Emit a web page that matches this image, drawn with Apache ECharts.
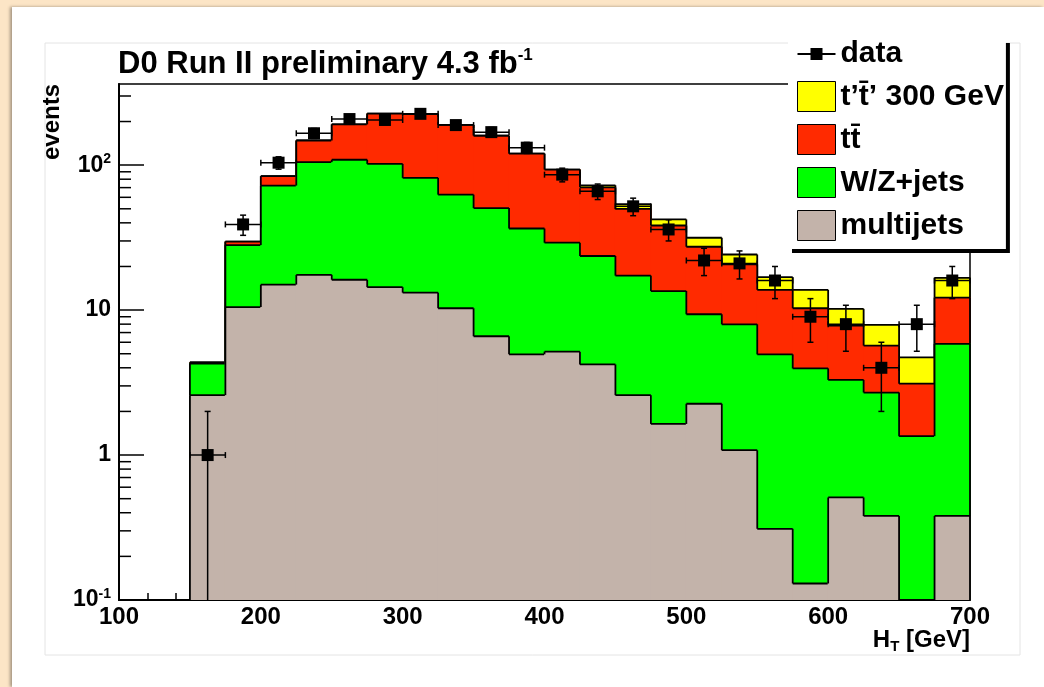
<!DOCTYPE html>
<html>
<head>
<meta charset="utf-8">
<title>D0 Run II preliminary - HT</title>
<script src="https://cdn.jsdelivr.net/npm/echarts@6/dist/echarts.min.js"></script>
<style>
body { margin: 0; background: #fce5c6; }
#panel { position: absolute; left: 12px; top: 7px; width: 1032px; height: 680px; background: #fff; box-shadow: -2px 0 3px rgba(0,0,0,0.35); }
#main { position: absolute; left: 0; top: 0; width: 1044px; height: 687px; }
</style>
</head>
<body>
<div id="panel"></div>
<div id="main"></div>
<script>
// bins of H_T (GeV), low edges
var binLow = [150, 175, 200, 225, 250, 275, 300, 325, 350, 375, 400, 425, 450, 475, 500, 525, 550, 575, 600, 625, 650, 675];
var binWidth = 25;

// expected events per process
var multijets = [2.59, 10.5, 15.0, 17.5, 16.2, 14.4, 13.2, 10.3, 6.6, 4.95, 5.17, 4.22, 2.59, 1.64, 2.26, 1.08, 0.31, 0.13, 0.51, 0.38, 0, 0.38];
var wzjets = [1.69, 17.6, 57.3, 87.5, 92.8, 87.6, 68.5, 52.3, 44.0, 31.6, 24.0, 19.4, 14.7, 11.9, 7.1, 6.9, 4.64, 3.83, 2.79, 2.32, 1.35, 5.47];
var ttbar = [0.07, 1.6, 11.6, 43, 82, 125, 143, 127, 109, 83.5, 64.1, 46.7, 32.7, 24.8, 18.0, 12.7, 8.85, 6.34, 4.53, 2.99, 1.76, 6.35];
var tprime = [0, 0, 0, 0, 0, 0, 0, 0, 0, 0, 0, 2.3, 3.9, 3.9, 4.2, 3.5, 3.1, 3.5, 2.37, 2.23, 1.61, 4.5];

// observed
var dataCounts = [1, 39, 104, 166, 208, 205, 226, 189, 169, 132, 86, 66, 52, 36, 22, 21, 16, 9, 8, 4, 8, 16];
var dataErr = [1, 6.2, 10.2, 12.9, 14.4, 14.3, 15.0, 13.7, 13.0, 11.5, 9.3, 8.1, 7.2, 6.0, 4.7, 4.6, 4.0, 3.0, 2.8, 2.0, 2.8, 4.0];

var yMin = 0.1, yMax = 363;
var font = '"Liberation Sans", Arial, Helvetica, sans-serif';

var nameTp = 't\u2019t\u0304\u2019 300 GeV';
var nameTt = 'tt\u0304';
var nameWz = 'W/Z+jets';
var nameMj = 'multijets';

var cYellow = '#ffff00', cRed = '#ff2a00', cGreen = '#00ff00', cTan = '#c3b3aa';

function addUp(a, b) {
    return a.map(function (v, i) { return v + b[i]; });
}
var stackMj = multijets;
var stackWz = addUp(stackMj, wzjets);
var stackTt = addUp(stackWz, ttbar);
var stackTp = addUp(stackTt, tprime);

function histSeries(name, color, cum) {
    return {
        name: name,
        type: 'custom',
        itemStyle: { color: color, borderColor: '#000', borderWidth: 1 },
        encode: { x: 0, y: 1 },
        data: binLow.map(function (x, i) { return [x, cum[i]]; }),
        renderItem: function (params, api) {
            var i = params.dataIndex;
            var x = api.value(0);
            var v = Math.max(api.value(1), yMin);
            var prev = i > 0 ? Math.max(cum[i - 1], yMin) : yMin;
            var tl = api.coord([x, v]);
            var br = api.coord([x + binWidth, yMin]);
            var pv = api.coord([x, prev]);
            var line = { stroke: '#000', lineWidth: 1.8 };
            var kids = [
                { type: 'rect', shape: { x: tl[0] - 0.5, y: tl[1], width: br[0] - tl[0] + 1, height: br[1] - tl[1] }, style: { fill: color } },
                { type: 'line', shape: { x1: tl[0], y1: tl[1], x2: br[0], y2: tl[1] }, style: line },
                { type: 'line', shape: { x1: tl[0], y1: pv[1], x2: tl[0], y2: tl[1] }, style: line }
            ];
            if (i === binLow.length - 1) {
                kids.push({ type: 'line', shape: { x1: br[0], y1: tl[1], x2: br[0], y2: br[1] }, style: line });
            }
            return { type: 'group', children: kids };
        },
        z: 2
    };
}

// minor ticks on the log axis (2..9 per decade)
var minorVals = [];
for (var k = -1; k <= 2; k++) {
    for (var m = 2; m <= 9; m++) {
        var mv = m * Math.pow(10, k);
        if (mv < yMax) minorVals.push([100, mv]);
    }
}

var chart = echarts.init(document.getElementById('main'));

chart.setOption({
    animation: false,
    title: {
        text: '{b|D0 Run II preliminary 4.3 fb}{s|-1}',
        left: 118,
        top: 47,
        padding: 0,
        textStyle: {
            rich: {
                b: { fontFamily: font, fontWeight: 'bold', fontSize: 31, color: '#000', lineHeight: 35 },
                s: { fontFamily: font, fontWeight: 'bold', fontSize: 17, color: '#000', verticalAlign: 'top', lineHeight: 18 }
            }
        }
    },
    grid: {
        left: 119, right: 74, top: 84, bottom: 87,
        show: true, borderColor: '#000', borderWidth: 1.5, backgroundColor: '#fff'
    },
    legend: {
        orient: 'vertical',
        left: 788,
        top: 39,
        padding: [0, 2, 8, 9],
        itemWidth: 38,
        itemHeight: 30,
        itemGap: 12,
        backgroundColor: '#fff',
        shadowColor: '#000',
        shadowBlur: 0,
        shadowOffsetX: 4,
        shadowOffsetY: 4,
        selectedMode: false,
        symbolKeepAspect: true,
        textStyle: { fontFamily: font, fontWeight: 'bold', fontSize: 30, color: '#000' },
        data: [
            { name: 'data', icon: 'path://M0,14H38V16H0Z M13,9H25V21H13Z', itemStyle: { color: '#000' } },
            { name: nameTp, icon: 'rect', itemStyle: { color: cYellow, borderColor: '#000', borderWidth: 1 } },
            { name: nameTt, icon: 'rect', itemStyle: { color: cRed, borderColor: '#000', borderWidth: 1 } },
            { name: nameWz, icon: 'rect', itemStyle: { color: cGreen, borderColor: '#000', borderWidth: 1 } },
            { name: nameMj, icon: 'rect', itemStyle: { color: cTan, borderColor: '#000', borderWidth: 1 } }
        ]
    },
    xAxis: {
        type: 'value',
        min: 100,
        max: 700,
        interval: 100,
        axisLine: { lineStyle: { color: '#000', width: 2 } },
        axisTick: { inside: true, length: 14, lineStyle: { color: '#000', width: 1.5 } },
        minorTick: { show: true, splitNumber: 5, length: 7, lineStyle: { color: '#000', width: 1.5 } },
        splitLine: { show: false },
        axisLabel: { margin: 5, color: '#000', fontFamily: font, fontWeight: 'bold', fontSize: 24 }
    },
    yAxis: {
        type: 'log',
        logBase: 10,
        min: yMin,
        max: yMax,
        axisLine: { show: true, lineStyle: { color: '#000', width: 2 } },
        axisTick: { show: true, inside: true, length: 25, lineStyle: { color: '#000', width: 1.5 } },
        splitLine: { show: false },
        axisLabel: {
            margin: 8,
            showMaxLabel: false,
            formatter: function (v) {
                var e = Math.round(Math.log(v) / Math.LN10);
                if (e === 0) return '{b|1}';
                if (e === 1) return '{b|10}';
                return '{b|10}{s|' + e + '}';
            },
            rich: {
                b: { fontFamily: font, fontWeight: 'bold', fontSize: 23, color: '#000', lineHeight: 26 },
                s: { fontFamily: font, fontWeight: 'bold', fontSize: 14, color: '#000', verticalAlign: 'top', lineHeight: 14 }
            }
        }
    },
    graphic: [
        {
            type: 'rect', z: -10, silent: true,
            shape: { x: 45, y: 43, width: 975, height: 612 },
            style: { fill: 'none', stroke: '#e4e4e4', lineWidth: 1 }
        },
        {
            type: 'text', x: 52, y: 122, rotation: Math.PI / 2, silent: true,
            style: { text: 'events', font: 'bold 24px ' + font, fill: '#000', align: 'center', verticalAlign: 'middle' }
        },
        {
            type: 'text', x: 970, y: 640, silent: true,
            style: {
                text: '{b|H}{t|T}{b| [GeV]}',
                align: 'right', verticalAlign: 'middle',
                rich: {
                    b: { fontFamily: font, fontWeight: 'bold', fontSize: 24, fill: '#000', lineHeight: 28 },
                    t: { fontFamily: font, fontWeight: 'bold', fontSize: 15, fill: '#000', verticalAlign: 'bottom', lineHeight: 15 }
                }
            }
        }
    ],
    series: [
        histSeries(nameTp, cYellow, stackTp),
        histSeries(nameTt, cRed, stackTt),
        histSeries(nameWz, cGreen, stackWz),
        histSeries(nameMj, cTan, stackMj),
        {
            name: 'minorTicks',
            type: 'custom',
            silent: true,
            z: 3,
            encode: { x: 0, y: 1 },
            data: minorVals,
            renderItem: function (params, api) {
                var p = api.coord([api.value(0), api.value(1)]);
                return { type: 'line', shape: { x1: p[0], y1: p[1], x2: p[0] + 12, y2: p[1] }, style: { stroke: '#000', lineWidth: 1.5 } };
            }
        },
        {
            name: 'data',
            type: 'custom',
            itemStyle: { color: '#000' },
            z: 5,
            encode: { x: 0, y: 1 },
            data: binLow.map(function (x, i) { return [x + binWidth / 2, dataCounts[i], dataErr[i]]; }),
            renderItem: function (params, api) {
                var x = api.value(0), n = api.value(1), e = api.value(2);
                var c = api.coord([x, n]);
                var l = api.coord([x - binWidth / 2, n]);
                var r = api.coord([x + binWidth / 2, n]);
                var hi = api.coord([x, n + e]);
                var clipped = (n - e) < yMin;
                var lo = api.coord([x, Math.max(n - e, yMin)]);
                var st = { stroke: '#000', lineWidth: 1.5 };
                var cap = 3;
                var kids = [
                    { type: 'line', shape: { x1: l[0], y1: c[1], x2: r[0], y2: c[1] }, style: st },
                    { type: 'line', shape: { x1: l[0], y1: c[1] - cap, x2: l[0], y2: c[1] + cap }, style: st },
                    { type: 'line', shape: { x1: r[0], y1: c[1] - cap, x2: r[0], y2: c[1] + cap }, style: st },
                    { type: 'line', shape: { x1: c[0], y1: hi[1], x2: c[0], y2: lo[1] }, style: st },
                    { type: 'line', shape: { x1: c[0] - cap, y1: hi[1], x2: c[0] + cap, y2: hi[1] }, style: st }
                ];
                if (!clipped) {
                    kids.push({ type: 'line', shape: { x1: c[0] - cap, y1: lo[1], x2: c[0] + cap, y2: lo[1] }, style: st });
                }
                kids.push({ type: 'rect', shape: { x: c[0] - 6, y: c[1] - 6, width: 12, height: 12 }, style: { fill: '#000' } });
                return { type: 'group', children: kids };
            }
        }
    ]
});
</script>
</body>
</html>
